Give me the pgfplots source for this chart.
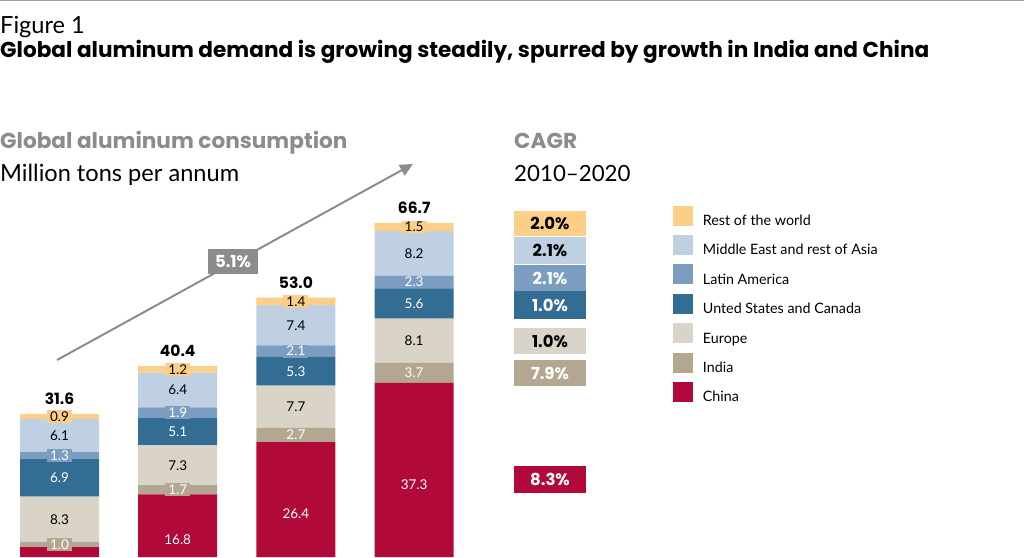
\documentclass[border=0pt]{standalone}
\usepackage{pgfplots}
\pgfplotsset{compat=1.18}
\usepackage{pgfplotstable}
\usetikzlibrary{arrows.meta}
\usepackage{fontspec}
\setmainfont{Lato}
\newfontfamily\pop{Poppins}
\definecolor{cRest}{HTML}{FCCF88}
\definecolor{cME}{HTML}{BFD0E2}
\definecolor{cLatin}{HTML}{7B9DBF}
\definecolor{cUS}{HTML}{336D94}
\definecolor{cEurope}{HTML}{DAD3C8}
\definecolor{cIndia}{HTML}{B4A791}
\definecolor{cChina}{HTML}{B0093A}
\definecolor{cGray}{HTML}{8C8C8C}

\pgfplotstableread{
x china india europe us latin me rest total
0 7.1 1.0 8.3 6.9 1.3 6.1 0.9 31.6
1 16.8 1.7 7.3 5.1 1.9 6.4 1.2 40.4
2 26.4 2.7 7.7 5.3 2.1 7.4 1.4 53.0
3 37.3 3.7 8.1 5.6 2.3 8.2 1.5 66.7
}\data

\pgfplotsset{
  seg/.style n args={3}{fill=#1, draw=none,
    nodes near coords, point meta=explicit symbolic,
    every node near coord/.append style={anchor=center, text=#3, fill=#1,
      inner xsep=3pt, inner ysep=1.5pt,
      font=\fontsize{13.5}{15}\selectfont}},
  frame/.style={at={(0,0)}, anchor=south west,
    scale only axis, hide axis,
    x=118.2pt, y=5.44pt,
    xmin=-0.5034, xmax=7.7, ymin=5.3, ymax=80},
}

\begin{document}
\begin{tikzpicture}[x=1pt,y=1pt]
\path[use as bounding box] (0,0) rectangle (1024,557);
\clip (0,0) rectangle (1024,557);

\begin{axis}[frame,
  ybar stacked, bar width=79pt,
  legend cell align=left,
  reverse legend,
  legend image code/.code={\fill[#1,draw=none] (0pt,-4.6pt) rectangle (20pt,15.4pt);},
  legend style={at={(axis cs:5.188,69.92)}, anchor=north west,
    draw=none, fill=none, inner sep=0pt, row sep=8pt, column sep=10pt,
    nodes={inner sep=0pt},
    font=\fontsize{14.3}{16}\selectfont},
]
\addplot[seg={cChina}{china}{white}] table[x=x,y=china,meta=china]{\data};
\addlegendentry{China}
\addplot[seg={cIndia}{india}{white}] table[x=x,y=india,meta=india]{\data};
\addlegendentry{India}
\addplot[seg={cEurope}{europe}{black}] table[x=x,y=europe,meta=europe]{\data};
\addlegendentry{Europe}
\addplot[seg={cUS}{us}{white}] table[x=x,y=us,meta=us]{\data};
\addlegendentry{Unted States and Canada}
\addplot[seg={cLatin}{latin}{white}] table[x=x,y=latin,meta=latin]{\data};
\addlegendentry{Latin America}
\addplot[seg={cME}{me}{black}] table[x=x,y=me,meta=me]{\data};
\addlegendentry{Middle East and rest of Asia}
\addplot[seg={cRest}{rest}{black}] table[x=x,y=rest,meta=rest]{\data};
\addlegendentry{Rest of the world}
\end{axis}

\begin{axis}[frame, clip=false]
\addplot[draw=none, nodes near coords, point meta=explicit symbolic,
  every node near coord/.append style={anchor=south, text=black, inner xsep=0pt, inner ysep=9pt,
    font=\pop\bfseries\fontsize{15.5}{18}\selectfont}]
  table[x=x,y=total,meta=total]{\data};
\end{axis}

% header
\draw[cGray!80, line width=1pt] (0,556.5) -- (1024,556.5);
\node[anchor=base west, inner sep=0pt, font=\fontsize{23.6}{26}\selectfont] at (0,523) {Figure 1};
\node[anchor=base west, inner sep=0pt, font=\pop\bfseries\fontsize{21.6}{24}\selectfont] at (0,499)
  {Global aluminum demand is growing steadily, spurred by growth in India and China};
\node[anchor=base west, inner sep=0pt, text=cGray, font=\pop\bfseries\fontsize{21.6}{26}\selectfont] at (0,408) {Global aluminum consumption};
\node[anchor=base west, inner sep=0pt, font=\fontsize{23.6}{28}\selectfont] at (0,375) {Million tons per annum};
\node[anchor=base west, inner sep=0pt, text=cGray, font=\pop\bfseries\fontsize{21.6}{26}\selectfont] at (514,408) {CAGR};
\node[anchor=base west, inner sep=0pt, font=\fontsize{22.3}{28}\selectfont] at (514,375) {2010–2020};

% arrow
\draw[cGray, line width=2pt, -{Triangle[length=13pt,width=12pt]}] (57,197) -- (413,393);
\node[fill=cGray, text=white, font=\pop\bfseries\fontsize{16.5}{20}\selectfont, minimum width=50pt, minimum height=25pt, inner sep=0pt] at (233,295.5) {5.1\%};

% CAGR boxes
\tikzset{cagr/.style={font=\pop\bfseries\fontsize{16.5}{18}\selectfont, inner sep=0pt}}
\fill[cRest] (514,557-236) rectangle (586,557-210.7);
\node[cagr,text=black] at (550,557-223.3) {2.0\%};
\fill[cME] (514,557-264) rectangle (586,557-237);
\node[cagr,text=black] at (550,557-250.5) {2.1\%};
\fill[cLatin] (514,557-291) rectangle (586,557-265);
\node[cagr,text=white] at (550,557-278) {2.1\%};
\fill[cUS] (514,557-319) rectangle (586,557-291);
\node[cagr,text=white] at (550,557-305) {1.0\%};
\fill[cEurope] (514,557-354) rectangle (586,557-328);
\node[cagr,text=black] at (550,557-341) {1.0\%};
\fill[cIndia] (514,557-386) rectangle (586,557-360);
\node[cagr,text=white] at (550,557-373) {7.9\%};
\fill[cChina] (514,557-493) rectangle (586,557-466);
\node[cagr,text=white] at (550,557-479.5) {8.3\%};
\end{tikzpicture}
\end{document}
